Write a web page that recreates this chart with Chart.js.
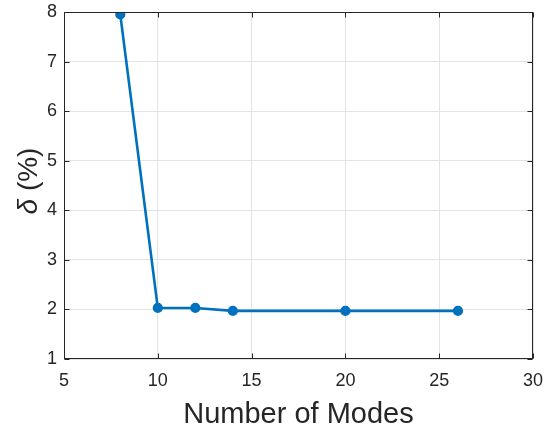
<!DOCTYPE html>
<html><head><meta charset="utf-8">
<script src="https://cdn.jsdelivr.net/npm/chart.js@4"></script>
<style>html,body{margin:0;padding:0;background:#fff}#wrap{width:546px;height:430px}</style>
</head><body><div id="wrap"><canvas id="c" width="546" height="430"></canvas></div>
<script>
const modes = [8, 10, 12, 14, 20, 26];
const delta = [7.95, 2.03, 2.03, 1.97, 1.97, 1.97];
const xTicks = [5, 10, 15, 20, 25, 30];
const yTicks = [1, 2, 3, 4, 5, 6, 7, 8];
const xTitle = 'Number of Modes';
const yTitleSym = 'δ';
const yTitleRest = ' (%)';

const AXC = '#262626';
const FONT = '"Liberation Sans", Arial, Helvetica, sans-serif';

const boxPlugin = {
  id: 'matlabBox',
  afterDraw(chart) {
    const ctx = chart.ctx, a = chart.chartArea;
    const xs = chart.scales.x, ys = chart.scales.y;
    const L = Math.round(a.left) + 0.5, R = Math.round(a.right) - 0.5;
    const T = Math.round(a.top) + 0.5, B = Math.round(a.bottom) - 0.5;
    ctx.save();
    ctx.strokeStyle = AXC; ctx.lineWidth = 1;
    ctx.strokeRect(L, T, R - L, B - T);
    const tl = 5;
    ctx.beginPath();
    xTicks.forEach(v => {
      const p = Math.round(xs.getPixelForValue(v)) + 0.5;
      ctx.moveTo(p, B); ctx.lineTo(p, B - tl);
      ctx.moveTo(p, T); ctx.lineTo(p, T + tl);
    });
    yTicks.forEach(v => {
      const p = Math.round(ys.getPixelForValue(v)) + 0.5;
      ctx.moveTo(L, p); ctx.lineTo(L + tl, p);
      ctx.moveTo(R, p); ctx.lineTo(R - tl, p);
    });
    ctx.stroke();
    // y title with italic delta
    const fs = 28;
    ctx.translate(29, 181);
    ctx.rotate(-Math.PI / 2);
    ctx.fillStyle = AXC;
    ctx.textBaseline = 'middle';
    ctx.font = 'italic ' + fs + 'px ' + FONT;
    const w1 = ctx.measureText(yTitleSym).width;
    ctx.font = fs + 'px ' + FONT;
    const w2 = ctx.measureText(yTitleRest).width;
    const x0 = -(w1 + w2) / 2;
    ctx.font = 'italic ' + fs + 'px ' + FONT;
    ctx.textAlign = 'left';
    ctx.fillText(yTitleSym, x0, 0);
    ctx.font = fs + 'px ' + FONT;
    ctx.fillText(yTitleRest, x0 + w1, 0);
    ctx.restore();
  }
};

new Chart(document.getElementById('c'), {
  type: 'line',
  data: {
    datasets: [{
      data: modes.map((m, i) => ({ x: m, y: delta[i] })),
      borderColor: '#0072BD',
      backgroundColor: '#0072BD',
      borderWidth: 2.6,
      pointRadius: 3.8,
      pointHoverRadius: 3.8,
      pointStyle: 'circle',
      tension: 0,
      fill: false
    }]
  },
  options: {
    responsive: false,
    animation: false,
    devicePixelRatio: 1,
    layout: { padding: { left: 0, top: 12, right: 13, bottom: 0 } },
    plugins: { legend: { display: false }, tooltip: { enabled: false } },
    scales: {
      x: {
        type: 'linear', min: 5, max: 30,
        afterBuildTicks: s => { s.ticks = xTicks.map(v => ({ value: v })); },
        afterFit: s => { s.height = 71; s.paddingLeft = 0; s.paddingRight = 0; },
        ticks: { color: AXC, font: { size: 18, family: FONT }, padding: 11, maxRotation: 0 },
        grid: { color: '#e3e3e3', drawTicks: false, lineWidth: 1 },
        border: { display: false },
        title: { display: true, text: xTitle, color: AXC, font: { size: 29, family: FONT }, padding: { top: 0, bottom: -2 } }
      },
      y: {
        type: 'linear', min: 1, max: 8,
        afterBuildTicks: s => { s.ticks = yTicks.map(v => ({ value: v })); },
        afterFit: s => { s.width = 64; s.paddingTop = 0; s.paddingBottom = 0; },
        ticks: { color: AXC, font: { size: 18, family: FONT }, padding: 7 },
        grid: { color: '#e3e3e3', drawTicks: false, lineWidth: 1 },
        border: { display: false }
      }
    }
  },
  plugins: [boxPlugin]
});
</script>
</body></html>
